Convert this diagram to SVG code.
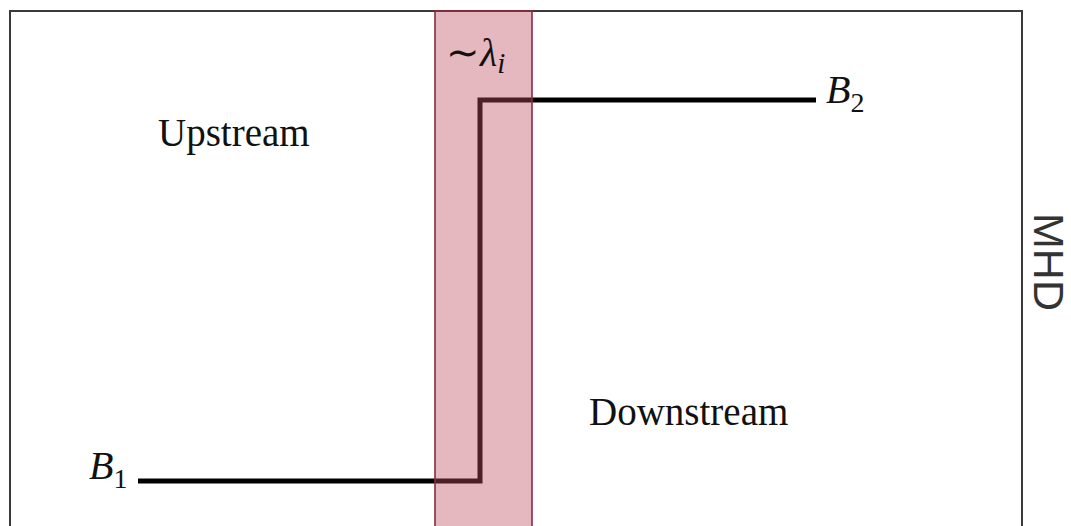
<svg xmlns="http://www.w3.org/2000/svg" width="1071" height="526" viewBox="0 0 1071 526">
<style>
.frame{fill:none;stroke:#3a3a3a;stroke-width:2}
.step{fill:none;stroke:#000;stroke-width:5;stroke-linejoin:miter}
.band{fill:rgb(190,75,95);fill-opacity:0.4;stroke:#8a2a3c;stroke-width:1.6}
.lbl{font-family:"Liberation Serif","Times New Roman",serif;font-size:39px;fill:#111}
.math{font-family:"Liberation Serif","Times New Roman",serif;font-size:40px;fill:#111}
.sub{font-size:28px;font-style:normal}
.side{font-family:"Liberation Sans",Arial,sans-serif;font-size:43px;fill:#333}
</style>
<rect width="1071" height="526" fill="#fff"/>
<g id="frame">
<path class="frame" d="M10,540 V11 H1022 V540"/>
</g>
<g id="connectors">
<path class="step" d="M138,481 H480 V100 H816"/>
</g>
<g id="band">
<rect class="band" x="435" y="11" width="97" height="530"/>
<text class="math" x="446" y="66" font-size="42"><tspan font-style="normal">∼</tspan><tspan font-style="italic">λ</tspan><tspan font-style="italic" font-size="29" dy="7">i</tspan></text>
</g>
<g id="upstream">
<text class="lbl" x="158" y="146">Upstream</text>
</g>
<g id="downstream">
<text class="lbl" x="589" y="425">Downstream</text>
</g>
<g id="b1">
<text class="math" x="89" y="479"><tspan font-style="italic">B</tspan><tspan class="sub" dy="9">1</tspan></text>
</g>
<g id="b2">
<text class="math" x="826" y="103"><tspan font-style="italic">B</tspan><tspan class="sub" dy="9">2</tspan></text>
</g>
<g id="mhd">
<text class="side" text-anchor="middle" transform="translate(1034,262) rotate(90)">MHD</text>
</g>
</svg>
